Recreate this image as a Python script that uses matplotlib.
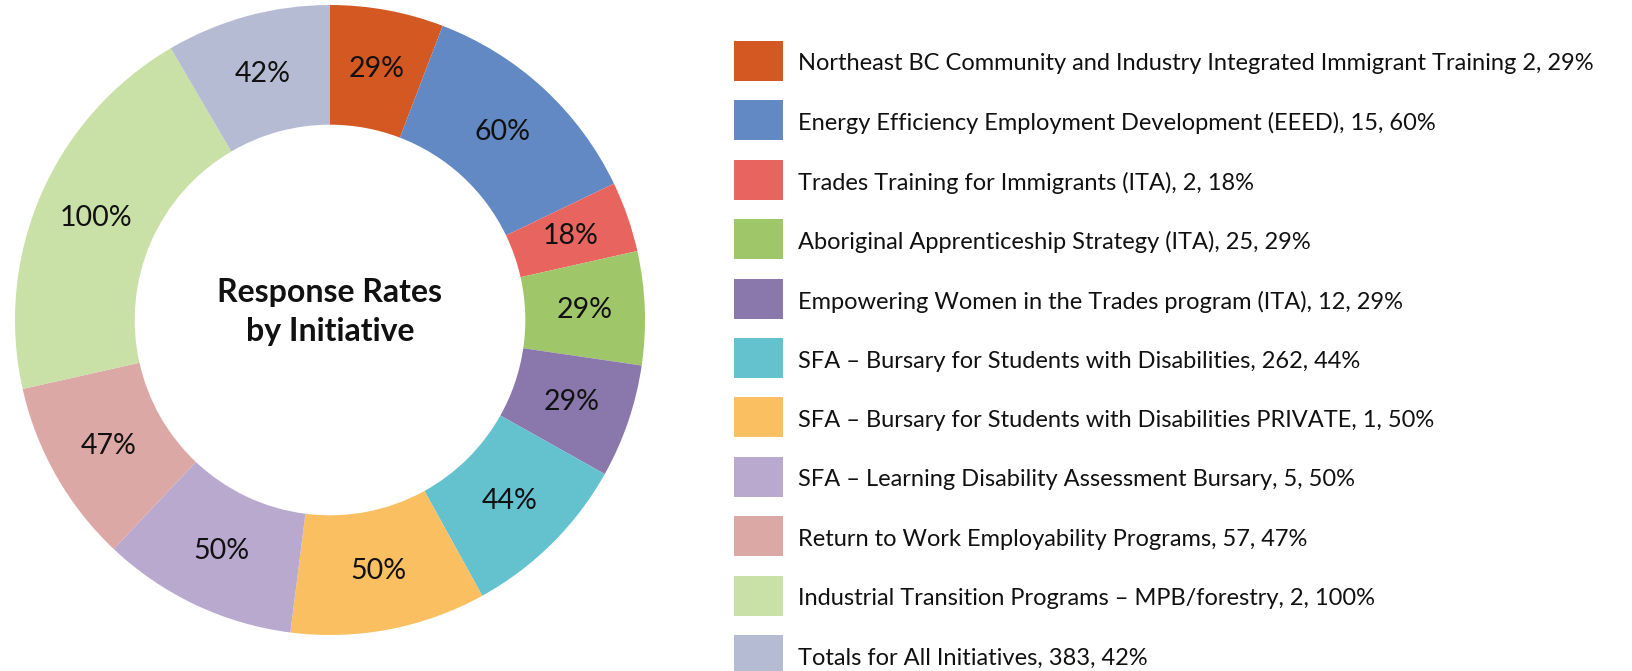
import matplotlib
matplotlib.use("Agg")
import matplotlib.pyplot as plt
from matplotlib.patches import Rectangle

labels = [
    "Northeast BC Community and Industry Integrated Immigrant Training 2, 29%",
    "Energy Efficiency Employment Development (EEED), 15, 60%",
    "Trades Training for Immigrants (ITA), 2, 18%",
    "Aboriginal Apprenticeship Strategy (ITA), 25, 29%",
    "Empowering Women in the Trades program (ITA), 12, 29%",
    "SFA \u2013 Bursary for Students with Disabilities, 262, 44%",
    "SFA \u2013 Bursary for Students with Disabilities PRIVATE, 1, 50%",
    "SFA \u2013 Learning Disability Assessment Bursary, 5, 50%",
    "Return to Work Employability Programs, 57, 47%",
    "Industrial Transition Programs \u2013 MPB/forestry, 2, 100%",
    "Totals for All Initiatives, 383, 42%",
]
rates = [29, 60, 18, 29, 29, 44, 50, 50, 47, 100, 42]
colors = ["#D35822", "#6289C3", "#E8655F", "#A0C66A", "#8A77AC", "#64C1CE",
          "#F9BF61", "#B9A9CF", "#DBA8A5", "#C9E0A7", "#B5BBD3"]
title = "Response Rates\nby Initiative"

plt.rcParams['font.family'] = ['Lato', 'DejaVu Sans']

W, H = 1633, 671
fig = plt.figure(figsize=(W / 100, H / 100), dpi=100)
cx, cy, R = 330, 320, 315
ax = fig.add_axes([(cx - R) / W, (H - cy - R) / H, 2 * R / W, 2 * R / H])
ring = 0.38
wedges, texts = ax.pie(rates, colors=colors, startangle=90, counterclock=False,
                       radius=1, wedgeprops=dict(width=ring, linewidth=0),
                       labels=[f"{r}%" for r in rates], labeldistance=1 - ring / 2,
                       textprops=dict(fontsize=20.5, color="#111111", ha="center", va="center"))
for t in texts:
    t.set_horizontalalignment("center")
    t.set_verticalalignment("center")
ax.set_xlim(-1, 1)
ax.set_ylim(-1, 1)
ax.set_aspect("equal")
ax.axis("off")
ax.text(0, 0.025, title, ha="center", va="center", fontsize=23, fontweight="bold",
        color="#111111", linespacing=1.4)

# legend
x0, y0, step = 734, 61, 59.4
sw, sh = 49, 40
for i, (lab, col) in enumerate(zip(labels, colors)):
    yc = y0 + i * step
    fig.patches.append(Rectangle((x0 / W, (H - yc - sh / 2) / H), sw / W, sh / H,
                                 transform=fig.transFigure, facecolor=col, edgecolor="none"))
    fig.text((x0 + sw + 15) / W, (H - yc - 3) / H, lab, ha="left", va="center",
             fontsize=17, color="#111111")

fig.savefig("out.png", dpi=100)
